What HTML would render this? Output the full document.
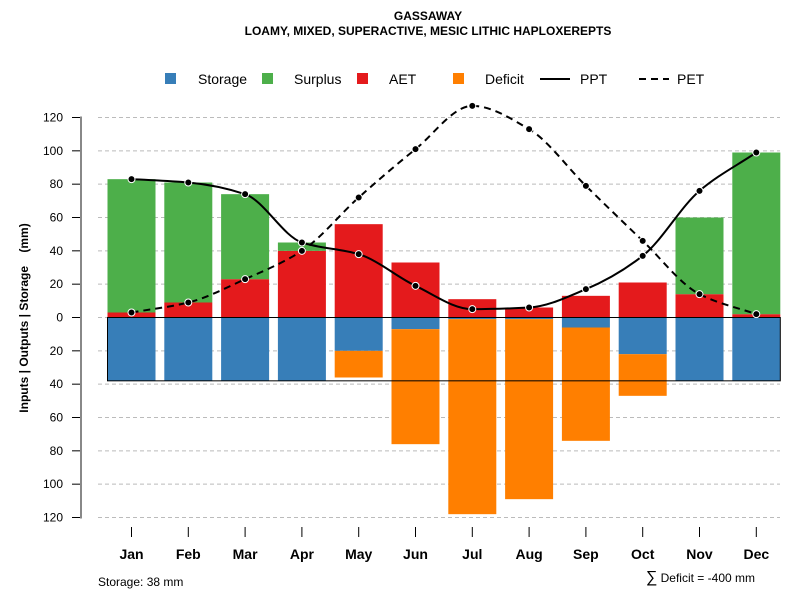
<!DOCTYPE html>
<html><head><meta charset="utf-8"><style>
body{margin:0;background:#fff}
svg{font-family:"Liberation Sans",sans-serif}
</style></head><body>
<svg id="c" width="800" height="600" xmlns="http://www.w3.org/2000/svg">
<text x="428" y="20" text-anchor="middle" font-size="12" font-weight="bold">GASSAWAY</text>
<text x="428" y="35" text-anchor="middle" font-size="12" font-weight="bold">LOAMY, MIXED, SUPERACTIVE, MESIC LITHIC HAPLOXEREPTS</text>
<g font-size="14">
<rect x="165" y="73" width="11" height="11" fill="#377EB8"/>
<text x="198" y="84">Storage</text>
<rect x="262" y="73" width="11" height="11" fill="#4DAF4A"/>
<text x="294" y="84">Surplus</text>
<rect x="357" y="73" width="11" height="11" fill="#E41A1C"/>
<text x="389" y="84">AET</text>
<rect x="453" y="73" width="11" height="11" fill="#FF7F00"/>
<text x="485" y="84">Deficit</text>
<line x1="540" y1="79" x2="570" y2="79" stroke="#000" stroke-width="2"/>
<text x="580" y="84">PPT</text>
<line x1="639" y1="79" x2="669" y2="79" stroke="#000" stroke-width="2" stroke-dasharray="7,5"/>
<text x="677" y="84">PET</text>
</g>
<g id="grid"></g><g id="bars"></g><g id="lines"></g><g id="axes"></g>
<text transform="translate(28,318) rotate(-90)" text-anchor="middle" font-size="12" font-weight="bold" xml:space="preserve">Inputs | Outputs | Storage    (mm)</text>
<text x="98" y="586" font-size="12">Storage: 38 mm</text>
<text x="755" y="582" text-anchor="end" font-size="12"><tspan font-size="16">∑</tspan> Deficit = -400 mm</text>
</svg>
<script>
const months=["Jan","Feb","Mar","Apr","May","Jun","Jul","Aug","Sep","Oct","Nov","Dec"];
const ppt=[83,81,74,45,38,19,5,6,17,37,76,99];
const pet=[3,9,23,40,72,101,127,113,79,46,14,2];
const aet=[3,9,23,40,56,33,11,6,13,21,14,2];
const surplus=[80,72,51,5,0,0,0,0,0,0,46,97];
const storage=[38,38,38,38,20,7,1,1,6,22,38,38];
const deficit=[0,0,0,0,16,69,117,108,68,25,0,0];
const yTicks=[-120,-100,-80,-60,-40,-20,0,20,40,60,80,100,120];
const storageCap=38;
const NS="http://www.w3.org/2000/svg";
const y=v=>317.5-v*200/120;
const x=i=>131.5+i*56.8;
const bw=48;
function mk(p,t,a){const e=document.createElementNS(NS,t);for(const k in a)e.setAttribute(k,a[k]);document.getElementById(p).appendChild(e);return e;}
yTicks.forEach(t=>{
 const g=mk("grid","line",{x1:98,x2:780,y1:y(t),y2:y(t),stroke:"#bbb","stroke-dasharray":"4,3"});
 
 
 const k=mk("axes","line",{x1:72,x2:81,y1:y(t),y2:y(t),stroke:"#000"});
 
 
 const l=mk("axes","text",{x:63,y:y(t)+4,"text-anchor":"end","font-size":12});
 l.textContent=Math.abs(t);
 
 
});
const ax=mk("axes","line",{x1:81,x2:81,y1:y(120)-1,y2:y(-120)+1,stroke:"#888","stroke-width":2});


months.forEach((m,i)=>{
 const L=x(i)-bw/2;
 const s=mk("bars","rect",{x:L,y:y(0),width:bw,height:y(-storage[i])-y(0),fill:"#377EB8"});
 
 
 if(deficit[i]>0){const d=mk("bars","rect",{x:L,y:y(-storage[i]),width:bw,height:y(-storage[i]-deficit[i])-y(-storage[i]),fill:"#FF7F00"});
 
 }
 const a=mk("bars","rect",{x:L,y:y(aet[i]),width:bw,height:y(0)-y(aet[i]),fill:"#E41A1C"});
 
 
 if(surplus[i]>0){const s2=mk("bars","rect",{x:L,y:y(aet[i]+surplus[i]),width:bw,height:y(aet[i])-y(aet[i]+surplus[i]),fill:"#4DAF4A"});
 
 }
 const t=mk("axes","line",{x1:x(i),x2:x(i),y1:527,y2:537,stroke:"#000"});
 
 
 const l=mk("axes","text",{x:x(i),y:559,"text-anchor":"middle","font-size":14,"font-weight":"bold"});
 l.textContent=m;
 
 
});
const box=mk("bars","rect",{x:x(0)-bw/2,y:y(0),width:x(11)+bw/2-(x(0)-bw/2),height:y(-storageCap)-y(0),fill:"none",stroke:"#000"});


const zl=mk("bars","line",{x1:x(0)-bw/2,x2:x(11)+bw/2,y1:y(0),y2:y(0),stroke:"#000"});


function curve(vals){
 const n=vals.length,h=x(1)-x(0);
 const dl=[];for(let i=0;i<n-1;i++)dl.push((vals[i+1]-vals[i])/h);
 const m=[];
 for(let i=0;i<n;i++){
  if(i===0)m.push(dl[0]);else if(i===n-1)m.push(dl[n-2]);
  else if(dl[i-1]*dl[i]<=0)m.push(0);else m.push(2/(1/dl[i-1]+1/dl[i]));
 }
 let d="M"+x(0)+","+y(vals[0]);
 for(let i=0;i<n-1;i++){
  const v1=vals[i]+m[i]*h/3,v2=vals[i+1]-m[i+1]*h/3;
  d+=` C${x(i)+h/3},${y(v1)} ${x(i+1)-h/3},${y(v2)} ${x(i+1)},${y(vals[i+1])}`;
 }
 return d;}
const pl=mk("lines","path",{d:curve(ppt),fill:"none",stroke:"#000","stroke-width":2});


const el=mk("lines","path",{d:curve(pet),fill:"none",stroke:"#000","stroke-width":2,"stroke-dasharray":"7,5"});


[ppt,pet].forEach((arr,k)=>arr.forEach((v,i)=>{
 const c=mk("lines","circle",{cx:x(i),cy:y(v),r:3.5,fill:"#000",stroke:"#fff","stroke-width":1});
 
 
}));
</script>
</body></html>
